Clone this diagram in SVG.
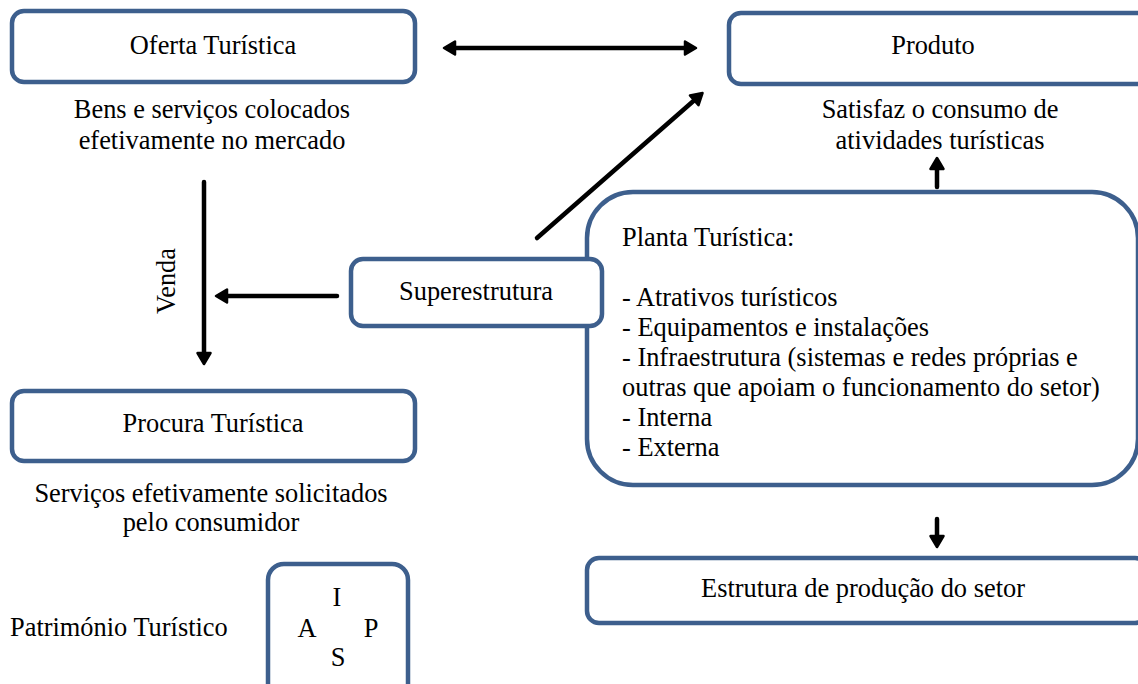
<svg xmlns="http://www.w3.org/2000/svg" width="1138" height="684" viewBox="0 0 1138 684">
  <style>
    .box { fill: #ffffff; stroke: #3d5f8d; stroke-width: 4.5; }
    .t { font-family: "Liberation Serif", "Times New Roman", serif; font-size: 26.4px; fill: #000000; }
    .c { text-anchor: middle; }
    .link { stroke: #000000; stroke-width: 4.5; fill: none; stroke-linecap: round; }
  </style>
  <defs>
    <marker id="head" markerUnits="userSpaceOnUse" markerWidth="18" markerHeight="18" viewBox="-3 -9 18 18" refX="5" refY="0" orient="auto-start-reverse">
      <path d="M0,-6.5 L11,0 L0,6.5 Z" fill="#000000" stroke="#000000" stroke-width="2.5" stroke-linejoin="round"/>
    </marker>
  </defs>

  <rect width="1138" height="684" fill="#ffffff"/>

  <!-- Planta Turística (drawn first so Superestrutura sits on top of its left edge) -->
  <g id="planta">
    <rect class="box" x="587" y="192" width="551" height="293" rx="46" ry="46"/>
    <text class="t" x="622" y="246">Planta Turística:</text>
    <text class="t" x="622" y="306">- Atrativos turísticos</text>
    <text class="t" x="622" y="336">- Equipamentos e instalações</text>
    <text class="t" x="622" y="366">- Infraestrutura (sistemas e redes próprias e</text>
    <text class="t" x="622" y="396">outras que apoiam o funcionamento do setor)</text>
    <text class="t" x="622" y="426">- Interna</text>
    <text class="t" x="622" y="456">- Externa</text>
  </g>

  <!-- connectors -->
  <g id="connectors">
    <line class="link" x1="450" y1="48" x2="690" y2="48" marker-start="url(#head)" marker-end="url(#head)"/>
    <line class="link" x1="537" y1="238" x2="698" y2="97" marker-end="url(#head)"/>
    <line class="link" x1="937" y1="187" x2="937" y2="164" marker-end="url(#head)"/>
    <line class="link" x1="204" y1="182" x2="204" y2="358" marker-end="url(#head)"/>
    <line class="link" x1="337" y1="296" x2="222" y2="296" marker-end="url(#head)"/>
    <line class="link" x1="937" y1="519" x2="937" y2="541" marker-end="url(#head)"/>
    <text class="t c" transform="translate(175,281) rotate(-90)" x="0" y="0">Venda</text>
  </g>

  <g id="oferta">
    <rect class="box" x="12" y="11" width="403" height="71" rx="12" ry="12"/>
    <text class="t c" x="213" y="54">Oferta Turística</text>
    <text class="t c" x="212" y="118">Bens e serviços colocados</text>
    <text class="t c" x="212" y="149">efetivamente no mercado</text>
  </g>

  <g id="produto">
    <rect class="box" x="729" y="13" width="420" height="71" rx="12" ry="12"/>
    <text class="t c" x="933" y="54">Produto</text>
    <text class="t c" x="940" y="118">Satisfaz o consumo de</text>
    <text class="t c" x="940" y="149">atividades turísticas</text>
  </g>

  <g id="superestrutura">
    <rect class="box" x="351" y="259" width="251" height="67" rx="12" ry="12"/>
    <text class="t c" x="476" y="300">Superestrutura</text>
  </g>

  <g id="procura">
    <rect class="box" x="12" y="391" width="403" height="70" rx="12" ry="12"/>
    <text class="t c" x="213" y="432">Procura Turística</text>
    <text class="t c" x="211" y="502">Serviços efetivamente solicitados</text>
    <text class="t c" x="211" y="531">pelo consumidor</text>
  </g>

  <g id="estrutura">
    <rect class="box" x="587" y="558" width="560" height="65" rx="12" ry="12"/>
    <text class="t c" x="863" y="597">Estrutura de produção do setor</text>
  </g>

  <g id="patrimonio">
    <text class="t" x="10" y="636">Património Turístico</text>
    <rect class="box" x="268" y="564" width="140" height="140" rx="16" ry="16"/>
    <text class="t c" x="337" y="606">I</text>
    <text class="t c" x="307" y="637">A</text>
    <text class="t c" x="371" y="637">P</text>
    <text class="t c" x="338" y="666">S</text>
  </g>
</svg>
